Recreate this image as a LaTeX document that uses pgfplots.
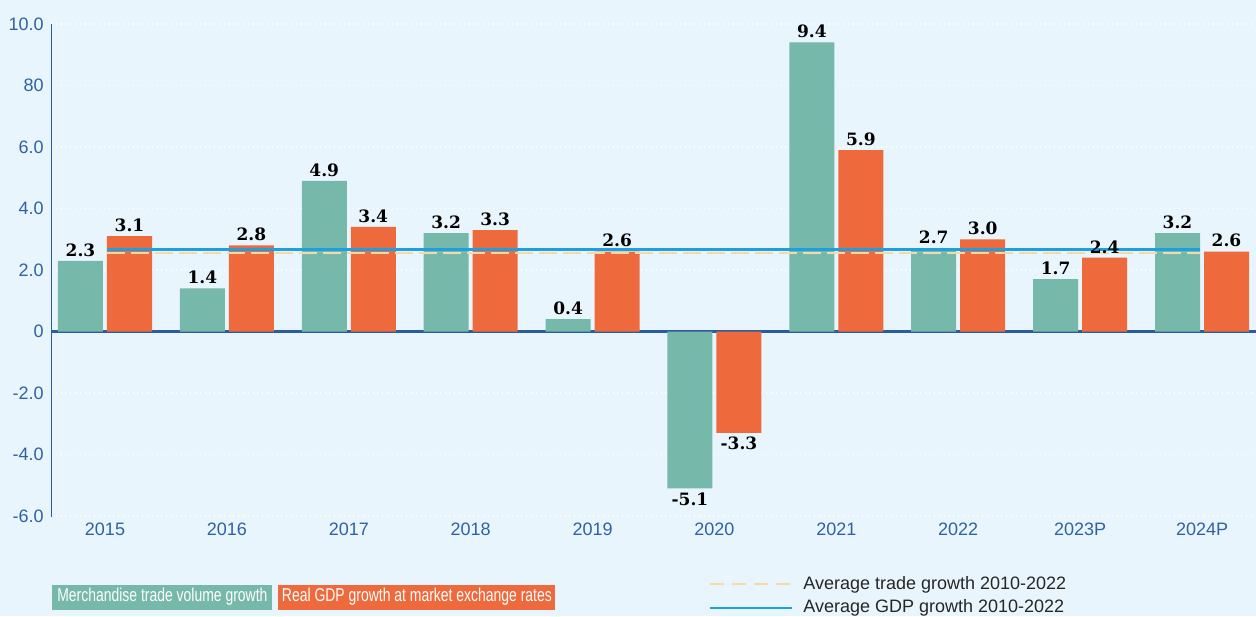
\documentclass[border=0pt]{standalone}
\usepackage{pgfplots}
\pgfplotsset{compat=1.18}
\usepackage{pgfplotstable}
\usepackage{fontspec}
\setmainfont{Liberation Sans}
\newfontfamily\labelfont{DejaVu Serif Bold}
\definecolor{bg}{HTML}{E9F5FD}
\definecolor{tradegreen}{HTML}{76B9AB}
\definecolor{gdporange}{HTML}{EE6A3C}
\definecolor{axisblue}{HTML}{2B5C9E}
\definecolor{ticktext}{HTML}{2F62A3}
\definecolor{gdpline}{HTML}{1BA1E2}
\definecolor{tradeline}{HTML}{F8D9A4}

% growth in %, trade volume and real GDP
\pgfplotstableread{
x trade gdp
0  2.3  3.1
1  1.4  2.8
2  4.9  3.4
3  3.2  3.3
4  0.4  2.6
5 -5.1 -3.3
6  9.4  5.9
7  2.7  3.0
8  1.7  2.4
9  3.2  2.6
}\growth

\pgfplotsset{
  barlabels/.style={
    nodes near coords,
    nodes near coords align=vertical,
    every node near coord/.append style={font=\labelfont\fontsize{8.5}{9}\selectfont,
      text=black, inner sep=2pt, xshift=#1,
      /pgf/number format/.cd, fixed, fixed zerofill, precision=1, assume math mode=true},
  },
}

\begin{document}
\begin{tikzpicture}
\useasboundingbox (0,0) rectangle (628pt,308pt);
\fill[bg] (0,0) rectangle (628pt,308pt);
\begin{axis}[
  at={(25.5pt,50pt)}, anchor=south west,
  scale only axis, width=602.5pt, height=246pt,
  xmin=-0.443, xmax=9.443, ymin=-6, ymax=10,
  axis line style={draw=none},
  xtick={0,...,9},
  xticklabels={2015,2016,2017,2018,2019,2020,2021,2022,2023P,2024P},
  ytick={-6,-4,-2,2,4,6,8,10},
  yticklabels={-6.0,-4.0,-2.0,2.0,4.0,6.0,80,10.0},
  extra y ticks={0}, extra y tick labels={0},
  extra y tick style={grid=major, major grid style={solid, axisblue, line width=1.1pt}},
  major tick length=0pt,
  tick label style={font=\fontsize{9}{10}\selectfont, text=ticktext, inner sep=1pt},
  xticklabel shift=2.5pt, yticklabel shift=2.5pt,
  ymajorgrids,
  major grid style={white, dotted, line width=0.7pt},
]
\addplot[ybar, bar width=22.5pt, bar shift=-12.25pt, fill=tradegreen, draw=none, barlabels=-12.25pt]
  table[x=x, y=trade] {\growth};
\addplot[ybar, bar width=22.5pt, bar shift=12.25pt, fill=gdporange, draw=none, barlabels=12.25pt]
  table[x=x, y=gdp] {\growth};
\addplot[tradeline, dash pattern=on 9pt off 3pt, line width=1.2pt, no markers]
  coordinates {(0.016,2.56) (8.98,2.56)};
\addplot[gdpline, line width=1.4pt, no markers]
  coordinates {(0.016,2.66) (8.98,2.66)};
\draw[axisblue, line width=1.1pt] (rel axis cs:0,-0.01) -- (rel axis cs:0,1);
\end{axis}
% legend
\node[fill=tradegreen, text=white, inner sep=0pt, minimum height=12.5pt, minimum width=110pt,
  anchor=south west, font=\fontsize{9.3}{10}\selectfont] at (26pt,3pt)
  {\scalebox{0.75}[1]{Merchandise trade volume growth}};
\node[fill=gdporange, text=white, inner sep=0pt, minimum height=12.5pt, minimum width=138.5pt,
  anchor=south west, font=\fontsize{9.3}{10}\selectfont] at (139pt,3pt)
  {\scalebox{0.75}[1]{Real GDP growth at market exchange rates}};
\draw[tradeline, line width=1.2pt, dash pattern=on 7pt off 4pt] (355pt,16pt) -- (396pt,16pt);
\node[anchor=base west, inner sep=0pt, text=black!85, font=\fontsize{9}{10}\selectfont] at (401.5pt,13.5pt)
  {Average trade growth 2010-2022};
\draw[gdpline, line width=1.4pt] (355pt,4pt) -- (396pt,4pt);
\node[anchor=base west, inner sep=0pt, text=black!85, font=\fontsize{9}{10}\selectfont] at (401.5pt,2pt)
  {Average GDP growth 2010-2022};
\end{tikzpicture}
\end{document}
